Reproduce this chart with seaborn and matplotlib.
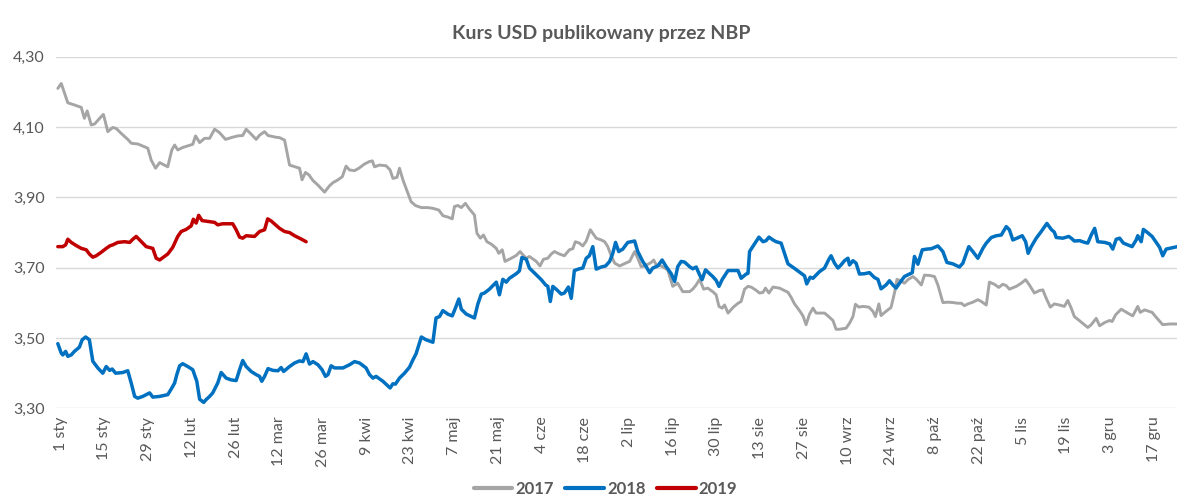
import numpy as np
import pandas as pd
import matplotlib; matplotlib.use("Agg")
import matplotlib.pyplot as plt
import seaborn as sns
from matplotlib.ticker import FuncFormatter

# day of year (1 = 1 Jan) and NBP USD/PLN rate
d17 = [0.1, 1.2, 3.3, 5.4, 7.6, 8.6, 9.5, 10.8, 11.9, 14.0, 14.7, 16.1, 17.7, 18.8, 20.4, 22.5, 23.6, 25.7, 28.9, 30.0,
       31.4, 32.7, 35.3, 36.6, 37.5, 38.5, 40.1, 43.3, 44.2, 45.5, 47.1, 48.7, 50.3, 51.9, 53.8, 55.6, 57.7, 59.3, 60.4, 62.0,
       63.6, 64.7, 66.3, 67.4, 70.0, 71.1, 72.7, 74.3, 76.4, 77.5, 78.3, 79.4, 80.5, 81.8, 83.4, 85.5, 87.1, 88.2, 89.8, 91.2,
       92.4, 93.5, 95.1, 96.5, 98.3, 99.9, 100.8, 101.5, 103.1, 105.2, 106.5, 107.4, 108.7, 109.5, 110.6, 112.2, 113.2, 114.6, 116.5, 118.6,
       120.2, 122.1, 123.4, 125.0, 126.4, 127.1, 128.2, 129.3, 130.6, 131.9, 133.5, 134.3, 135.4, 136.4, 137.5, 138.9, 140.5, 141.3, 142.4, 143.3,
       145.3, 146.9, 148.1, 149.0, 150.1, 151.1, 153.3, 154.5, 155.6, 157.0, 158.1, 159.1, 160.7, 162.3, 163.9, 165.0, 165.8, 167.1, 168.2, 169.3,
       170.6, 171.4, 172.5, 174.1, 175.2, 176.2, 177.0, 178.4, 180.0, 181.9, 183.2, 184.8, 185.8, 186.9, 188.0, 190.1, 190.9, 191.7, 193.3, 195.4,
       197.0, 198.6, 200.2, 202.4, 203.4, 204.5, 205.6, 206.9, 208.2, 209.8, 210.9, 211.8, 212.8, 213.6, 214.7, 216.3, 217.9, 218.9, 220.0, 221.1,
       222.1, 223.5, 224.8, 225.9, 226.7, 227.8, 229.1, 231.2, 232.8, 233.9, 234.9, 236.0, 237.6, 238.7, 239.7, 240.8, 241.9, 242.9, 244.0, 245.6,
       246.7, 248.3, 249.3, 250.4, 252.5, 253.6, 254.7, 255.5, 256.6, 257.9, 259.8, 261.1, 261.9, 263.0, 263.7, 265.3, 266.9, 268.0, 268.8, 269.6,
       271.2, 272.3, 273.9, 275.0, 276.6, 277.6, 279.2, 280.8, 281.9, 283.5, 285.1, 286.7, 288.3, 289.4, 290.4, 291.5, 293.1, 294.7, 295.8, 297.4,
       298.4, 300.0, 301.4, 302.7, 303.8, 304.8, 307.0, 308.6, 310.0, 311.2, 312.8, 314.4, 315.5, 316.6, 317.9, 319.2, 320.8, 322.4, 323.5, 324.6,
       325.6, 327.3, 329.9, 331.0, 332.6, 333.7, 335.3, 336.9, 337.7, 338.8, 340.6, 342.7, 344.3, 345.9, 346.7, 348.1, 350.5, 351.8, 353.9, 356.1,
       358.6]
v17 = [4.210, 4.224, 4.169, 4.163, 4.156, 4.125, 4.146, 4.106, 4.109, 4.130, 4.136, 4.087, 4.099, 4.096, 4.082, 4.065, 4.054, 4.052, 4.040, 4.006,
       3.983, 3.999, 3.987, 4.035, 4.049, 4.035, 4.042, 4.051, 4.075, 4.056, 4.068, 4.068, 4.094, 4.084, 4.065, 4.070, 4.075, 4.076, 4.094, 4.080,
       4.065, 4.077, 4.087, 4.076, 4.071, 4.070, 4.063, 3.992, 3.986, 3.983, 3.950, 3.971, 3.964, 3.948, 3.935, 3.915, 3.933, 3.942, 3.950, 3.959,
       3.989, 3.978, 3.976, 3.983, 3.995, 4.002, 4.004, 3.987, 3.992, 3.990, 3.978, 3.954, 3.957, 3.983, 3.950, 3.912, 3.888, 3.877, 3.871, 3.871,
       3.869, 3.864, 3.848, 3.844, 3.839, 3.874, 3.877, 3.871, 3.883, 3.867, 3.850, 3.798, 3.784, 3.793, 3.774, 3.767, 3.755, 3.741, 3.751, 3.718,
       3.727, 3.735, 3.746, 3.737, 3.727, 3.732, 3.718, 3.705, 3.724, 3.727, 3.739, 3.746, 3.739, 3.734, 3.751, 3.754, 3.774, 3.770, 3.762, 3.776,
       3.808, 3.798, 3.784, 3.779, 3.774, 3.760, 3.741, 3.713, 3.705, 3.713, 3.718, 3.746, 3.727, 3.703, 3.705, 3.715, 3.722, 3.708, 3.705, 3.694,
       3.647, 3.656, 3.632, 3.632, 3.639, 3.651, 3.667, 3.639, 3.642, 3.632, 3.623, 3.590, 3.585, 3.594, 3.571, 3.587, 3.599, 3.604, 3.639, 3.647,
       3.645, 3.637, 3.628, 3.630, 3.642, 3.628, 3.645, 3.642, 3.635, 3.630, 3.616, 3.597, 3.578, 3.563, 3.538, 3.568, 3.585, 3.571, 3.571, 3.571,
       3.563, 3.550, 3.525, 3.525, 3.528, 3.542, 3.561, 3.596, 3.588, 3.590, 3.588, 3.576, 3.561, 3.597, 3.564, 3.576, 3.587, 3.628, 3.667, 3.664,
       3.656, 3.666, 3.675, 3.667, 3.651, 3.679, 3.678, 3.675, 3.651, 3.601, 3.602, 3.601, 3.599, 3.599, 3.592, 3.597, 3.602, 3.609, 3.604, 3.594,
       3.659, 3.653, 3.644, 3.653, 3.649, 3.639, 3.647, 3.656, 3.666, 3.651, 3.628, 3.635, 3.637, 3.613, 3.588, 3.597, 3.594, 3.590, 3.607, 3.585,
       3.561, 3.549, 3.530, 3.538, 3.556, 3.535, 3.544, 3.550, 3.547, 3.566, 3.582, 3.571, 3.563, 3.590, 3.573, 3.580, 3.573, 3.559, 3.538, 3.540,
       3.540]

d18 = [0.1, 1.2, 1.7, 2.6, 3.3, 4.4, 5.4, 7.0, 7.9, 9.0, 10.2, 11.3, 12.9, 14.5, 15.6, 16.7, 17.5, 18.6, 20.9, 22.5,
       23.6, 24.7, 25.7, 27.3, 29.5, 30.5, 32.7, 35.3, 36.4, 37.5, 38.2, 39.1, 40.1, 41.7, 43.3, 44.6, 45.5, 46.8, 47.6, 48.7,
       49.7, 51.3, 52.4, 54.0, 55.6, 57.2, 58.3, 59.3, 60.4, 62.0, 63.6, 64.7, 65.4, 66.3, 67.4, 69.0, 70.6, 71.6, 72.4, 74.3,
       75.9, 77.5, 78.6, 79.6, 80.7, 81.8, 83.4, 84.7, 85.8, 86.6, 87.6, 88.7, 91.4, 93.5, 95.1, 96.7, 98.8, 99.9, 101.0, 102.0,
       104.2, 106.5, 107.4, 108.2, 109.5, 111.1, 112.7, 113.8, 114.8, 116.5, 118.0, 120.2, 121.2, 122.3, 123.4, 125.0, 126.4, 127.4, 128.5, 129.3,
       130.9, 133.5, 134.6, 135.7, 136.7, 138.3, 140.5, 141.5, 142.6, 143.7, 144.7, 146.9, 147.9, 148.7, 150.1, 151.1, 153.3, 154.9, 156.3, 157.0,
       157.8, 158.6, 159.9, 161.3, 162.3, 163.6, 164.5, 165.5, 167.1, 168.2, 169.3, 170.3, 171.4, 172.5, 174.1, 175.5, 176.8, 177.8, 178.7, 179.7,
       181.0, 182.6, 184.8, 185.8, 187.4, 188.5, 189.6, 190.6, 192.2, 193.6, 194.9, 196.5, 197.6, 198.6, 199.7, 200.8, 202.4, 203.4, 204.5, 205.6,
       206.4, 207.5, 208.8, 209.8, 210.9, 211.8, 212.8, 214.7, 216.8, 217.9, 218.9, 220.5, 221.1, 221.6, 223.2, 224.6, 225.9, 226.9, 227.8, 229.1,
       230.1, 231.7, 233.9, 236.0, 238.1, 239.2, 239.9, 241.0, 241.9, 244.0, 245.6, 247.0, 247.7, 248.8, 249.9, 250.9, 252.0, 253.1, 253.6, 254.7,
       255.7, 256.8, 258.4, 260.0, 261.6, 262.7, 263.7, 265.3, 266.4, 267.5, 268.5, 269.6, 271.2, 272.8, 273.7, 274.4, 275.5, 276.9, 278.4, 279.8,
       281.9, 283.5, 284.8, 286.7, 288.8, 289.9, 291.8, 293.1, 294.7, 296.3, 297.4, 299.0, 300.6, 302.2, 303.8, 304.8, 305.9, 307.2, 308.9, 310.0,
       310.8, 311.8, 313.4, 315.0, 316.8, 318.2, 319.2, 319.8, 321.9, 323.8, 324.6, 325.6, 327.3, 328.9, 329.9, 331.0, 332.1, 333.1, 335.3, 336.9,
       337.9, 339.0, 340.1, 341.3, 342.7, 344.1, 345.4, 345.9, 347.0, 347.7, 348.6, 350.5, 351.8, 352.9, 353.9, 355.0, 357.1, 358.6]
v18 = [3.484, 3.457, 3.452, 3.462, 3.448, 3.452, 3.462, 3.474, 3.495, 3.503, 3.495, 3.434, 3.415, 3.400, 3.419, 3.408, 3.412, 3.400, 3.402, 3.407,
       3.372, 3.334, 3.329, 3.334, 3.344, 3.332, 3.334, 3.339, 3.355, 3.372, 3.396, 3.421, 3.427, 3.419, 3.410, 3.377, 3.326, 3.317, 3.325, 3.334,
       3.344, 3.372, 3.402, 3.386, 3.381, 3.379, 3.410, 3.436, 3.419, 3.405, 3.396, 3.391, 3.377, 3.391, 3.413, 3.408, 3.407, 3.416, 3.405, 3.419,
       3.429, 3.435, 3.433, 3.455, 3.426, 3.433, 3.424, 3.410, 3.391, 3.396, 3.421, 3.415, 3.415, 3.424, 3.433, 3.429, 3.415, 3.396, 3.386, 3.391,
       3.377, 3.358, 3.370, 3.369, 3.386, 3.400, 3.417, 3.438, 3.455, 3.503, 3.495, 3.488, 3.557, 3.561, 3.578, 3.568, 3.563, 3.585, 3.611, 3.582,
       3.568, 3.557, 3.597, 3.625, 3.628, 3.639, 3.659, 3.623, 3.667, 3.659, 3.670, 3.683, 3.691, 3.729, 3.724, 3.699, 3.680, 3.666, 3.651, 3.647,
       3.604, 3.647, 3.637, 3.625, 3.628, 3.645, 3.613, 3.692, 3.697, 3.699, 3.727, 3.734, 3.760, 3.696, 3.702, 3.705, 3.718, 3.741, 3.772, 3.746,
       3.753, 3.772, 3.776, 3.746, 3.718, 3.703, 3.686, 3.699, 3.705, 3.722, 3.703, 3.683, 3.661, 3.703, 3.718, 3.716, 3.703, 3.697, 3.702, 3.680,
       3.666, 3.694, 3.683, 3.675, 3.664, 3.647, 3.666, 3.692, 3.692, 3.692, 3.670, 3.682, 3.684, 3.746, 3.768, 3.787, 3.774, 3.777, 3.787, 3.779,
       3.774, 3.770, 3.711, 3.698, 3.684, 3.677, 3.654, 3.673, 3.670, 3.689, 3.699, 3.724, 3.734, 3.713, 3.699, 3.708, 3.720, 3.727, 3.708, 3.720,
       3.713, 3.682, 3.683, 3.686, 3.672, 3.667, 3.640, 3.651, 3.663, 3.651, 3.642, 3.656, 3.675, 3.682, 3.686, 3.732, 3.710, 3.751, 3.753, 3.754,
       3.762, 3.746, 3.715, 3.711, 3.702, 3.713, 3.760, 3.746, 3.727, 3.755, 3.770, 3.786, 3.791, 3.793, 3.817, 3.808, 3.779, 3.784, 3.791, 3.774,
       3.741, 3.760, 3.784, 3.803, 3.826, 3.809, 3.801, 3.786, 3.784, 3.789, 3.784, 3.776, 3.777, 3.772, 3.770, 3.793, 3.812, 3.774, 3.772, 3.768,
       3.753, 3.781, 3.784, 3.770, 3.765, 3.760, 3.779, 3.791, 3.774, 3.809, 3.803, 3.789, 3.772, 3.758, 3.734, 3.753, 3.757, 3.760]

d19 = [0.1, 1.7, 2.6, 3.3, 4.4, 6.0, 7.6, 9.2, 10.2, 11.3, 12.4, 14.0, 15.6, 16.7, 17.7, 19.3, 21.5, 23.1, 24.1, 25.2,
       26.3, 28.4, 30.5, 31.6, 32.7, 35.3, 36.9, 38.5, 39.6, 41.2, 42.8, 43.5, 44.4, 45.2, 46.3, 48.7, 50.3, 51.3, 52.9, 56.1,
       57.2, 58.3, 59.3, 60.4, 63.1, 64.7, 66.3, 67.3, 68.4, 71.1, 72.7, 74.3, 75.9, 77.5, 79.6]
v19 = [3.760, 3.760, 3.765, 3.781, 3.772, 3.763, 3.755, 3.751, 3.739, 3.730, 3.734, 3.744, 3.755, 3.762, 3.765, 3.772, 3.774, 3.772, 3.781, 3.789,
       3.779, 3.760, 3.755, 3.727, 3.722, 3.739, 3.758, 3.789, 3.803, 3.809, 3.819, 3.838, 3.827, 3.849, 3.834, 3.831, 3.829, 3.822, 3.825, 3.825,
       3.808, 3.787, 3.784, 3.791, 3.789, 3.803, 3.808, 3.839, 3.833, 3.812, 3.803, 3.800, 3.791, 3.784, 3.774]

tick_days = list(range(1, 352, 14))
tick_labels = ["1 sty", "15 sty", "29 sty", "12 lut", "26 lut", "12 mar", "26 mar", "9 kwi", "23 kwi",
               "7 maj", "21 maj", "4 cze", "18 cze", "2 lip", "16 lip", "30 lip", "13 sie", "27 sie",
               "10 wrz", "24 wrz", "8 paź", "22 paź", "5 lis", "19 lis", "3 gru", "17 gru"]

TXT = "#595959"

sns.set_theme(style="white")
plt.rcParams["font.family"] = ["Lato", "DejaVu Sans"]

fig, ax = plt.subplots(figsize=(11.78, 4.98), dpi=100)
fig.subplots_adjust(left=0.0475, right=0.9995, top=0.886, bottom=0.180)

sns.lineplot(x=d17, y=v17, ax=ax, color="#A5A5A5", linewidth=2.1, label="2017", estimator=None, sort=False)
sns.lineplot(x=d18, y=v18, ax=ax, color="#0070C0", linewidth=2.5, label="2018", estimator=None, sort=False)
sns.lineplot(x=d19, y=v19, ax=ax, color="#C00000", linewidth=2.5, label="2019", estimator=None, sort=False)

ax.set_xlim(-0.5, 358.6)
ax.set_ylim(3.30, 4.30)
ax.set_yticks(np.arange(3.30, 4.31, 0.20))
ax.yaxis.set_major_formatter(FuncFormatter(lambda v, p: f"{v:.2f}".replace(".", ",")))
ax.set_xticks(tick_days)
ax.set_xticklabels(tick_labels, rotation=90)
ax.tick_params(axis="both", length=0, colors=TXT, labelsize=11.5)
ax.tick_params(axis="x", pad=6)
ax.tick_params(axis="y", pad=8)
ax.yaxis.grid(True, color="#D9D9D9", linewidth=1)
ax.set_axisbelow(True)
for s in ax.spines.values():
    s.set_visible(False)
ax.set_xlabel(""); ax.set_ylabel("")

ax.get_legend().remove()
h, l = ax.get_legend_handles_labels()
leg = fig.legend(h, l, loc="center", bbox_to_anchor=(0.514, 0.018), ncol=3, frameon=False,
                 handlelength=2.3, columnspacing=0.7, handletextpad=0.2,
                 prop={"weight": "bold", "size": 12})
for t in leg.get_texts():
    t.set_color(TXT)
for line in leg.get_lines():
    line.set_linewidth(3)

fig.suptitle("Kurs USD publikowany przez NBP", x=0.51, y=0.95, fontsize=14, fontweight="bold", color=TXT)

fig.savefig("out.png", dpi=100)
